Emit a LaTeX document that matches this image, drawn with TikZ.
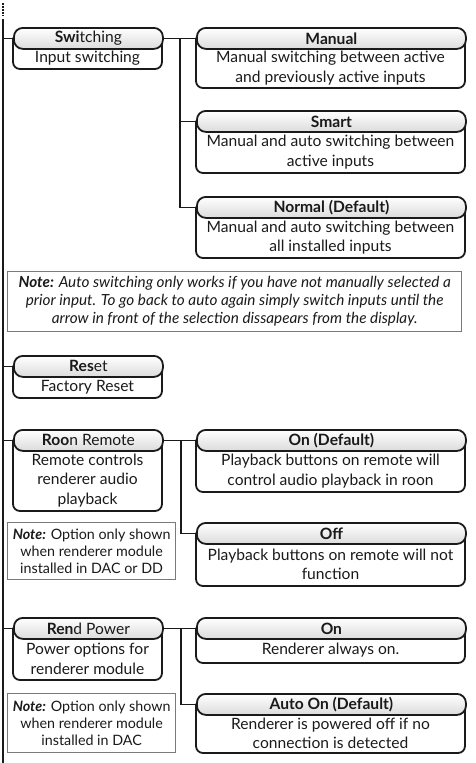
\documentclass[tikz,border=0pt]{standalone}
\usepackage{fontspec}
\setmainfont{Lato}
\usetikzlibrary{calc}
\pgfdeclarelayer{background}
\pgfsetlayers{background,main}
\definecolor{ink}{HTML}{1A1A1A}
\definecolor{notegray}{HTML}{7A7A7A}
\tikzset{
  boxline/.style={draw=ink, line width=1.8pt},
  headbox/.style={draw=ink, line width=1.8pt, rounded corners=9pt, top color=white, bottom color=black!14, inner sep=0pt, font=\fontsize{15.6}{18}\selectfont, text=ink},
  bodytext/.style={align=center, inner sep=0pt, font=\fontsize{15.6}{19.5}\selectfont, text=ink},
  notebox/.style={draw=notegray, line width=1.3pt, align=center, inner sep=0pt, text=ink},
  bignote/.style={font=\fontsize{15.3}{18}\selectfont\itshape},
  smallnote/.style={font=\fontsize{14.3}{17}\selectfont},
  conn/.style={draw=ink, line width=1.5pt},
}
\newcommand\menubox[8]{%
  \begin{pgfonlayer}{background}
    \draw[boxline, rounded corners=7pt] (#2,{(#3+#5)/2}) |- (#4,#6) -- (#4,{(#3+#5)/2});
  \end{pgfonlayer}
  \node[headbox, anchor=north west, minimum width={(#4-#2)*1pt}, minimum height={(#5-#3)*1pt}] (#1) at (#2,#3) {#7};
  \node[bodytext] (#1b) at ({(#2+#4)/2},{(#5+#6)/2}) {#8};
}
\newcommand\notebox[7]{%
  \node[notebox, #6, anchor=north west, minimum width={(#4-#2)*1pt}, minimum height={(#5-#3)*1pt}] (#1) at (#2,#3) {#7};
}
\begin{document}
\begin{tikzpicture}[x=1pt,y=-1pt]
\useasboundingbox (0,0) rectangle (476,763);
% main vertical line
\coordinate (dtop) at (3,3);
\coordinate (ltop) at (3,19);
\coordinate (lbot) at (3,763);
\draw[ink, line width=1.5pt, dash pattern=on 1.5pt off 1.5pt] (dtop) -- (3,16);
\draw[ink, line width=1.8pt] (ltop) -- (lbot);

% Switching group
\menubox{sw}{13}{27}{162}{48}{69}{\textbf{Swi}tching}{Input switching}
\menubox{man}{196}{27}{465}{48}{88}{\textbf{Manual}}{Manual switching between active\\and previously active inputs}
\menubox{sma}{196}{110}{465}{131}{173}{\textbf{Smart}}{Manual and auto switching between\\active inputs}
\menubox{nor}{196}{196}{465}{217}{258}{\textbf{Normal (Default)}}{Manual and auto switching between\\all installed inputs}
\notebox{n1}{7}{271}{461}{331}{bignote}{\textbf{Note:} Auto switching only works if you have not manually selected a\\prior input. To go back to auto again simply switch inputs until the\\arrow in front of the selection dissapears from the display.}

% Reset
\menubox{res}{13}{355}{162}{376}{398}{\textbf{Res}et}{Factory Reset}

% Roon
\menubox{roo}{13}{429}{162}{450}{511}{\textbf{Roo}n Remote}{Remote controls\\renderer audio\\playback}
\menubox{ond}{196}{429}{465}{450}{492}{\textbf{On (Default)}}{Playback buttons on remote will\\control audio playback in roon}
\menubox{off}{196}{522}{465}{543}{586}{\textbf{Off}}{Playback buttons on remote will not\\function}
\notebox{n2}{7}{522}{175}{579}{smallnote}{\textbf{\itshape Note:} Option only shown\\when renderer module\\installed in DAC or DD}

% Rend
\menubox{ren}{13}{617}{162}{638}{680}{\textbf{Ren}d Power}{Power options for\\renderer module}
\menubox{onn}{196}{617}{465}{638}{663}{\textbf{On}}{Renderer always on.}
\menubox{aut}{196}{693}{465}{714}{753}{\textbf{Auto On (Default)}}{Renderer is powered off if no\\connection is detected}
\notebox{n3}{7}{693}{175}{752}{smallnote}{\textbf{\itshape Note:} Option only shown\\when renderer module\\installed in DAC}

% stubs from main line
\foreach \n in {sw,res,roo,ren}{
  \draw[conn] (\n.west) -- (\n.west -| ltop);
}
% branches
\draw[conn] (sw.east) -- (man.west);
\coordinate (b1) at ($(sw.east)!0.5!(man.west)$);
\draw[conn] (b1) |- (sma.west);
\draw[conn] (b1) |- (nor.west);

\draw[conn] (roo.east) -- (ond.west);
\coordinate (b2) at ($(roo.east)!0.53!(ond.west)$);
\draw[conn] (b2) |- (off.west);

\draw[conn] (ren.east) -- (onn.west);
\coordinate (b3) at ($(ren.east)!0.53!(onn.west)$);
\draw[conn] (b3) |- (aut.west);
\end{tikzpicture}
\end{document}
